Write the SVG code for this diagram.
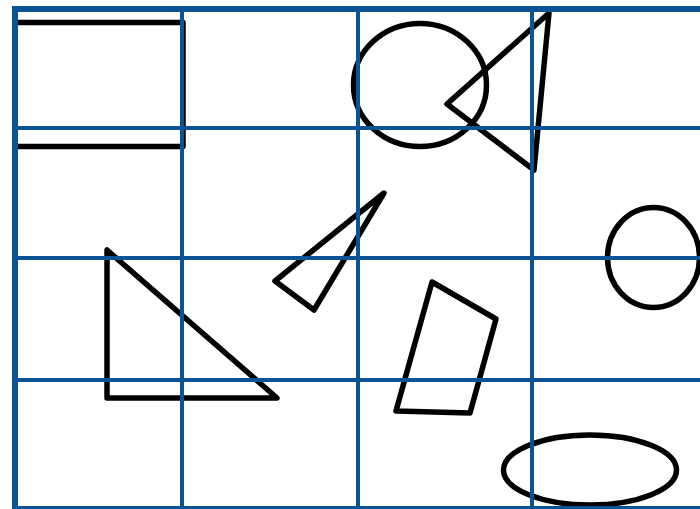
<svg xmlns="http://www.w3.org/2000/svg" width="700" height="509" viewBox="0 0 700 509">
<style>
.s{fill:none;stroke:#000;stroke-width:5.5;stroke-linejoin:round}
.g{fill:none;stroke:#0b5394;stroke-width:4}
.b{fill:none;stroke:#0b5394;stroke-width:6}
</style>
<rect width="700" height="509" fill="#fff"/>
<g id="shapes">
<g id="bracket"><polyline class="s" points="15,22.5 183,22.5 183,146.5 15,146.5"/></g>
<g id="ellipse1"><ellipse class="s" cx="420" cy="85" rx="66.5" ry="61.5"/></g>
<g id="tri1"><polygon class="s" points="549,13 447,104 534,170"/></g>
<g id="ellipse2"><ellipse class="s" cx="653.5" cy="257.5" rx="46" ry="50"/></g>
<g id="tri2"><polygon class="s" points="107,250 107,398 277,398"/></g>
<g id="tri3"><polygon class="s" points="384,193 275,281 314,310"/></g>
<g id="quad"><polygon class="s" points="432,282 496,319 470,413 396,411"/></g>
<g id="ellipse3"><ellipse class="s" cx="590" cy="470" rx="86.5" ry="35"/></g>
</g>
<g id="grid">
<line class="g" x1="182" y1="9" x2="182" y2="509"/>
<line class="g" x1="358" y1="9" x2="358" y2="509"/>
<line class="g" x1="532" y1="9" x2="532" y2="509"/>
<line class="g" x1="15" y1="128" x2="700" y2="128"/>
<line class="g" x1="15" y1="258" x2="700" y2="258"/>
<line class="g" x1="15" y1="380" x2="700" y2="380"/>
<rect class="b" x="15" y="9" width="700" height="500"/>
</g>
</svg>
